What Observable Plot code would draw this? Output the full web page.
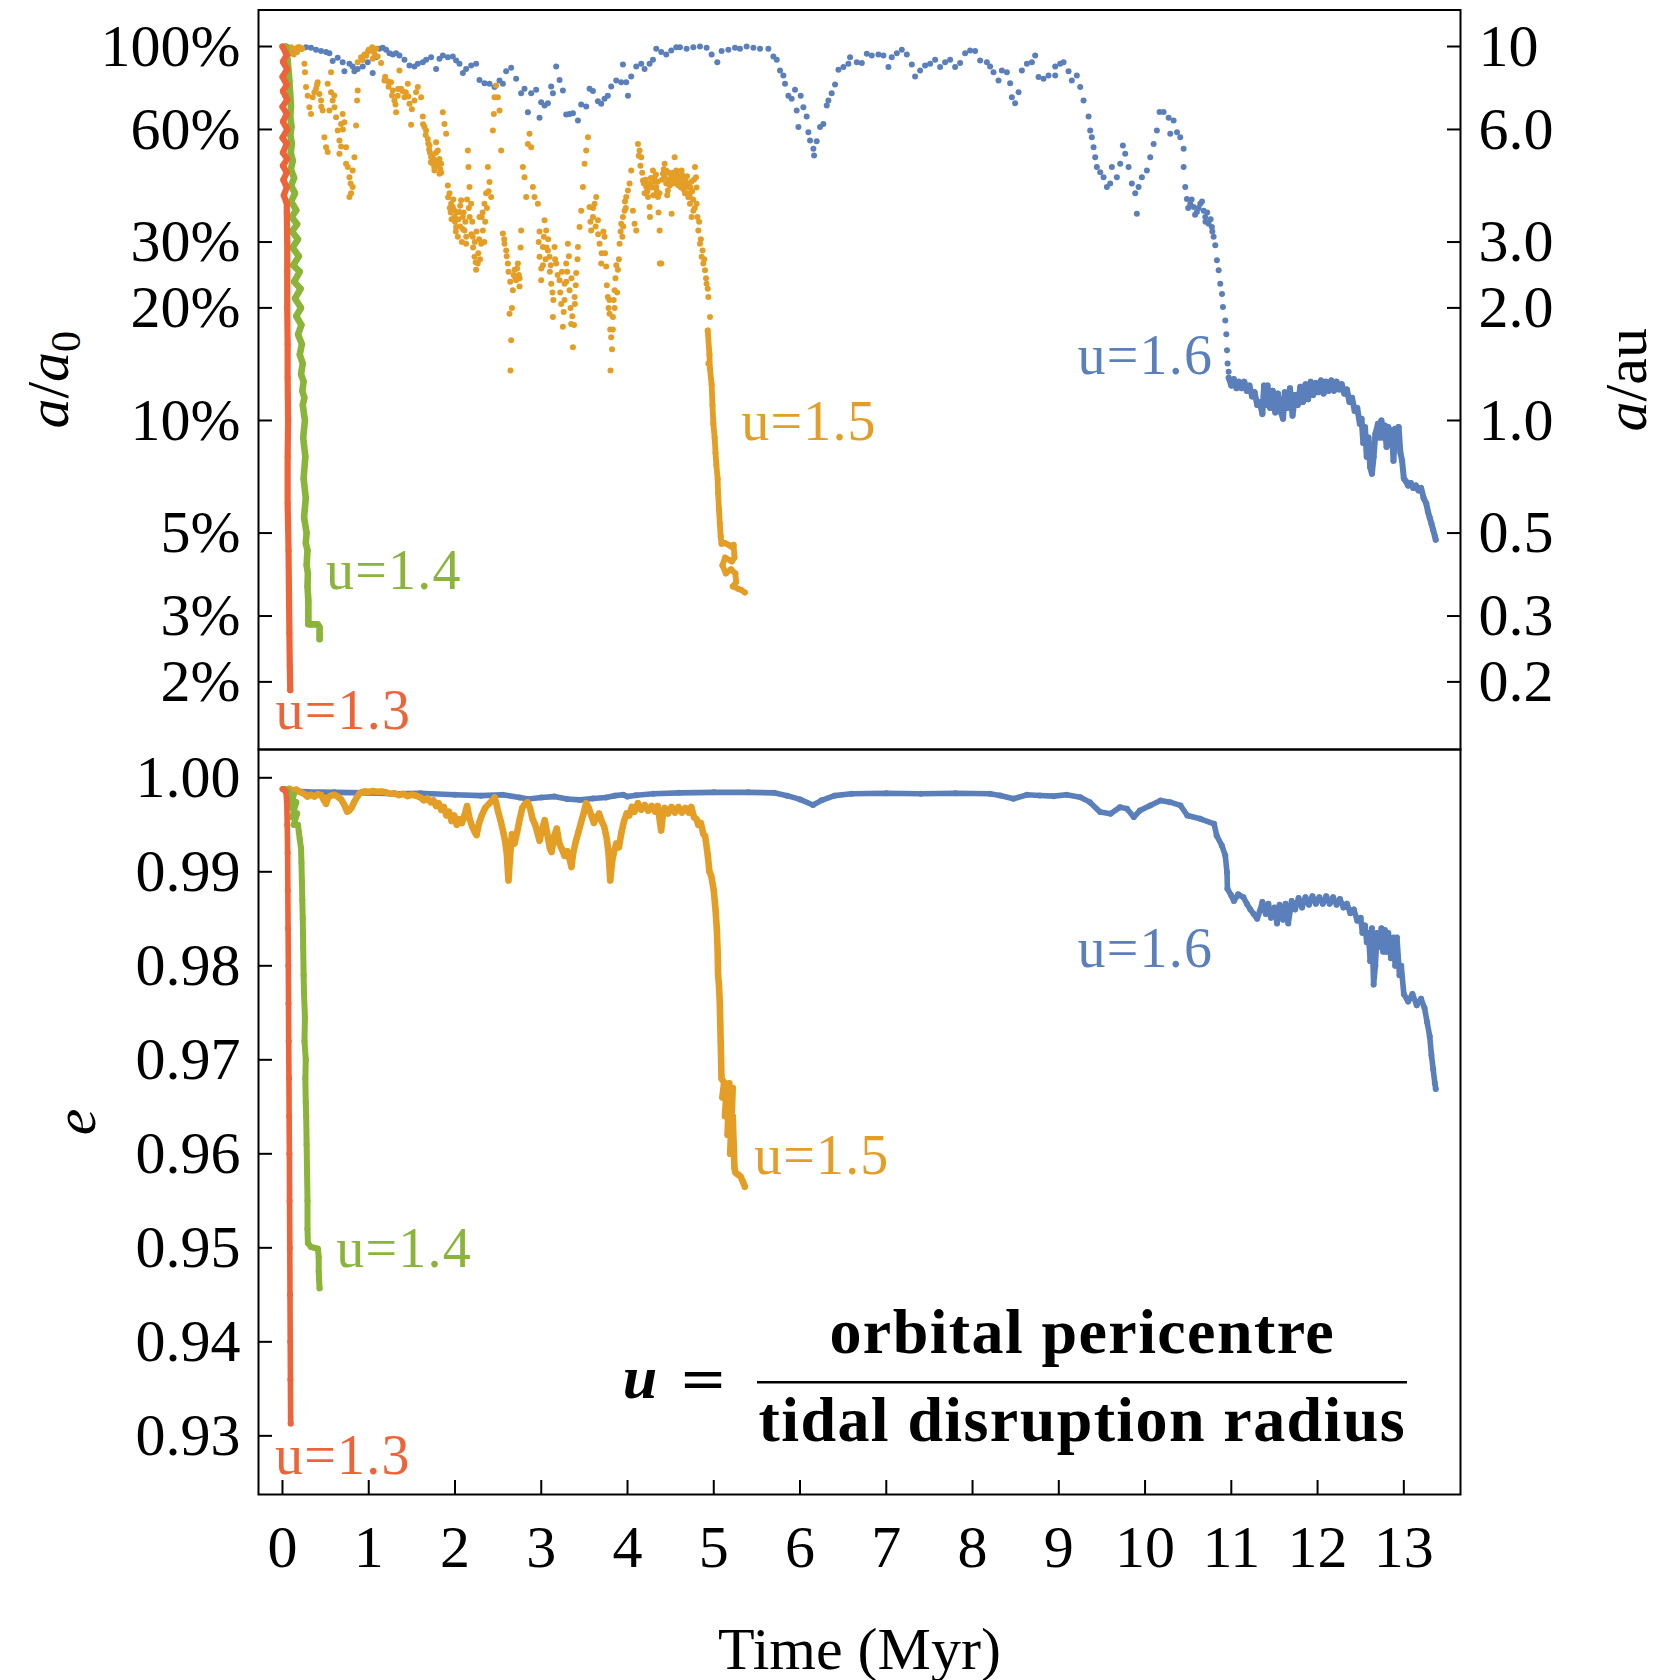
<!DOCTYPE html>
<html><head><meta charset="utf-8">
<script src="https://cdn.jsdelivr.net/npm/d3@7"></script>
<script src="https://cdn.jsdelivr.net/npm/@observablehq/plot@0.6"></script>
<style>
body{margin:0;background:#fff;}
#wrap{position:relative;width:1657px;height:1680px;background:#fff;}
#wrap svg{position:absolute;left:0;overflow:visible;background:transparent;}
</style></head><body><div id="wrap"></div>
<script>
// ---------- tick values & labels ----------
const aTicks = [10, 6, 3, 2, 1, 0.5, 0.3, 0.2];
const aTickLeft = ["100%", "60%", "30%", "20%", "10%", "5%", "3%", "2%"];
const aTickRight = ["10", "6.0", "3.0", "2.0", "1.0", "0.5", "0.3", "0.2"];
const eTicks = [1.00, 0.99, 0.98, 0.97, 0.96, 0.95, 0.94, 0.93];
const eTickLabels = ["1.00", "0.99", "0.98", "0.97", "0.96", "0.95", "0.94", "0.93"];
const timeTicks = [0,1,2,3,4,5,6,7,8,9,10,11,12,13];
const timeTickLabels = ["0","1","2","3","4","5","6","7","8","9","10","11","12","13"];
const seriesNames = ["u=1.3", "u=1.4", "u=1.5", "u=1.6"];
const seriesColors = ["#ee6338", "#8bb43a", "#e49e26", "#5a7fba"];

// ---------- top panel: semi-major axis a (au), [time Myr, a] ----------
const blueTopSparse = [[0.08,9.60],[0.138,9.66],[0.215,9.86],[0.273,9.96],[0.331,9.92],[0.389,9.80],[0.447,9.72],[0.505,9.66],[0.544,9.60],[0.582,9.14],[0.640,9.33],[0.698,9.08],[0.718,8.59],[0.776,8.99],[0.814,8.84],[0.834,8.59],[0.872,8.71],[0.930,8.84],[0.988,9.08],[1.046,8.49],[1.085,9.36],[1.124,9.86],[1.162,9.92],[1.201,9.80],[1.240,9.60],[1.279,9.52],[1.317,9.60],[1.356,9.46],[1.414,9.21],[1.472,8.90],[1.530,8.84],[1.569,8.99],[1.627,9.08],[1.665,9.21],[1.723,9.36],[1.781,8.71],[1.820,9.27],[1.859,9.46],[1.917,9.36],[1.975,9.40],[2.013,9.17],[2.052,8.99],[2.091,8.49],[2.129,8.71],[2.187,8.90],[2.245,8.99],[2.284,8.14],[2.342,7.98],[2.400,7.95],[2.458,7.79],[2.516,8.11],[2.555,7.95],[2.593,8.59],[2.651,8.77],[2.709,8.20],[2.767,7.50],[2.806,7.71],[2.845,6.67],[2.883,7.50],[2.941,7.66],[2.980,6.45],[2.999,7.10],[3.038,6.95],[3.077,7.05],[3.115,7.82],[3.135,7.50],[3.173,8.84],[3.212,8.14],[3.251,7.63],[3.289,6.58],[3.328,6.60],[3.367,6.63],[3.425,6.34],[3.463,7.00],[3.521,6.91],[3.560,7.71],[3.599,7.60],[3.657,7.14],[3.695,7.03],[3.734,7.25],[3.772,7.39],[3.811,7.82],[3.869,8.11],[3.927,8.03],[3.947,8.95],[3.985,8.03],[4.005,7.39],[4.043,8.31],[4.101,8.84],[4.159,8.99],[4.198,8.71],[4.256,8.99],[4.295,9.21],[4.333,9.86],[4.391,9.66],[4.449,9.52],[4.507,9.76],[4.565,9.96],
[4.608,9.96],[4.685,9.86],[4.763,9.96],[4.840,10.0],[4.917,9.92],[4.975,9.52],[5.041,9.08],[5.091,9.72],[5.169,9.80],[5.246,9.92],[5.304,9.86],[5.381,10.0],[5.459,9.92],[5.536,9.86],[5.633,9.86],[5.691,9.40],[5.730,9.21],[5.768,8.62],[5.807,8.37],[5.826,7.95],[5.865,7.39],[5.903,7.25],[5.942,7.66],[5.961,6.74],[5.981,6.09],[6.008,7.39],[6.039,6.88],[6.077,6.50],[6.097,5.90],[6.116,5.61],[6.155,5.33],[6.163,5.11],[6.193,5.58],[6.232,6.09],[6.271,6.21],[6.310,6.95],[6.329,7.17],[6.367,7.50],[6.406,7.92],[6.445,8.66],[6.503,8.81],[6.561,8.99],[6.580,9.36],[6.658,9.08],[6.716,9.03],[6.774,9.56],[6.832,9.46],[6.909,9.52],[6.967,9.46],[7.025,8.81],[7.063,9.36],[7.122,9.60],[7.180,9.80],[7.238,9.52],[7.296,8.95],[7.334,8.31],[7.392,8.62],[7.450,8.90],[7.508,8.99],[7.566,9.21],[7.624,8.81],[7.682,9.08],[7.740,9.21],[7.798,8.81],[7.856,9.03],[7.914,9.60],[7.972,9.76],[8.030,9.72],[8.088,9.17],[8.166,9.08],[8.204,8.84],[8.243,8.54],[8.301,8.11],[8.340,8.62],[8.398,8.54],[8.436,7.98],[8.456,7.32],[8.494,7.05],[8.533,7.55],[8.572,8.62],[8.630,8.99],[8.688,9.08],[8.726,9.46],[8.765,8.29],[8.823,8.20],[8.881,8.37],[8.958,8.84],[8.958,8.37],
[9.016,8.99],[9.055,9.08],[9.113,8.59],[9.151,8.11],[9.209,8.37],[9.248,7.79],[9.287,7.17],[9.345,6.50],[9.364,5.96],[9.383,5.72],[9.403,5.38],[9.422,5.06],[9.441,4.76],[9.480,4.61],[9.519,4.47],[9.557,4.21],[9.596,4.30],[9.615,4.76],[9.673,4.47],[9.712,4.86],[9.743,5.44],[9.770,5.17],[9.809,4.76],[9.847,4.30],[9.886,4.05],[9.905,3.57],[9.925,4.21],[9.963,4.47],[10.021,4.66],[10.060,5.06],[10.099,5.49],[10.137,5.96],[10.168,6.68],[10.215,6.68],[10.273,6.45],[10.292,5.84],[10.331,6.34],[10.370,5.90],[10.408,5.72],[10.447,5.33],[10.447,4.76],[10.466,4.21],[10.485,3.91],[10.50,3.70],[10.524,3.80],[10.54,3.90],[10.563,3.72],[10.58,3.55],[10.601,3.61],[10.62,3.70],[10.640,3.80],[10.66,3.85],[10.679,3.64],[10.698,3.50],[10.70,3.40],[10.72,3.60],[10.737,3.36],[10.76,3.45],[10.775,3.29],[10.78,3.20],[10.795,3.10],[10.814,2.94],[10.833,2.68],[10.853,2.52],[10.872,2.32],[10.892,2.18],[10.903,2.01],[10.930,1.85],[10.942,1.70],[10.950,1.54],[10.957,1.42],[10.969,1.35]];

const blueTopDense = [[10.97,1.30],[11.00,1.24],[11.03,1.29],[11.06,1.22],[11.09,1.27],[11.12,1.22],[11.15,1.27],[11.18,1.20],[11.21,1.24],[11.24,1.16],[11.27,1.19],[11.30,1.10],[11.33,1.12],[11.36,1.04],[11.38,1.24],[11.40,1.10],[11.42,1.24],[11.45,1.08],[11.48,1.20],[11.51,1.05],[11.54,1.18],[11.57,1.06],[11.60,1.01],[11.62,1.19],[11.65,1.08],[11.68,1.22],[11.71,1.03],[11.74,1.17],[11.77,1.10],[11.80,1.23],[11.83,1.12],[11.86,1.25],[11.89,1.14],[11.92,1.27],[11.95,1.17],[11.98,1.26],[12.01,1.19],[12.04,1.28],[12.07,1.18],[12.10,1.27],[12.13,1.20],[12.16,1.28],[12.19,1.20],[12.22,1.27],[12.25,1.21],[12.28,1.25],[12.31,1.18],[12.34,1.21],[12.37,1.12],[12.40,1.15],[12.43,1.06],[12.46,1.08],[12.49,0.98],[12.51,1.01],[12.53,0.87],[12.55,0.96],[12.57,0.80],[12.59,0.90],[12.61,0.75],[12.63,0.72],[12.65,0.80],[12.67,0.92],[12.70,0.98],[12.72,0.90],[12.74,1.00],[12.76,0.90],[12.78,0.97],[12.80,0.85],[12.82,0.96],[12.84,0.88],[12.86,0.94],[12.88,0.78],[12.90,0.95],[12.92,0.85],[12.94,0.96],[12.96,0.82],[12.98,0.78],[13.00,0.70],[13.02,0.69],[13.05,0.67],[13.08,0.68],[13.11,0.66],[13.14,0.67],[13.17,0.65],[13.20,0.66],[13.23,0.62],[13.26,0.60],[13.28,0.57],[13.30,0.55],[13.32,0.53],[13.34,0.51],[13.36,0.49],[13.37,0.48]];

const orangeTopSparse = [[0.06,9.96],[0.08,9.66],[0.10,9.96],[0.13,9.52],[0.14,9.86],[0.17,9.66],[0.18,9.96],[0.20,9.96],[0.215,9.86],[0.23,9.86],
[0.254,8.99],[0.261,8.54],[0.273,7.79],[0.292,7.39],[0.312,6.88],[0.331,6.60],[0.350,7.32],[0.370,7.55],[0.389,7.71],[0.40,7.90],[0.408,8.03],[0.428,7.47],[0.447,7.17],[0.45,6.90],[0.466,6.74],[0.486,5.72],[0.505,5.38],[0.524,5.22],[0.524,7.95],[0.544,6.74],[0.563,7.55],[0.563,8.54],[0.582,7.17],[0.60,7.40],[0.602,6.88],[0.621,6.47],[0.640,5.96],[0.660,5.61],[0.660,5.17],[0.679,6.21],[0.68,5.40],[0.698,6.60],[0.70,6.00],[0.718,6.27],[0.737,5.38],[0.737,4.86],[0.757,4.76],[0.776,4.47],[0.776,3.96],[0.79,4.30],[0.795,4.05],[0.814,4.21],[0.814,4.66],[0.834,5.06],[0.853,6.15],[0.865,7.17],[0.872,7.63],
[0.872,9.08],[0.911,9.36],[0.93,9.20],[0.950,9.52],[0.97,9.45],[0.988,9.66],[1.00,9.80],[1.027,9.76],[1.04,9.96],[1.046,9.27],[1.06,9.86],[1.066,9.56],[1.085,9.86],[1.104,9.40],[1.143,9.03],[1.182,8.11],[1.19,8.30],[1.221,8.08],[1.23,7.80],[1.259,8.03],[1.27,7.40],[1.279,7.63],[1.298,7.17],[1.31,7.00],[1.317,6.67],[1.336,7.39],[1.34,7.70],[1.356,8.62],[1.375,7.71],[1.39,7.60],[1.414,7.32],[1.43,7.55],[1.453,7.95],[1.46,7.35],[1.472,7.03],[1.491,6.18],[1.50,6.80],[1.530,7.17],[1.549,7.55],[1.569,7.79],[1.607,7.32],[1.627,6.50],[1.63,6.20],[1.646,6.09],[1.665,5.96],[1.66,5.80],[1.685,5.66],[1.69,5.50],[1.70,5.30],[1.704,5.44],[1.71,5.20],[1.72,4.90],[1.723,5.06],[1.74,5.10],[1.743,4.86],[1.75,5.00],[1.76,4.75],[1.762,4.66],[1.78,5.20],[1.781,5.55],[1.79,4.95],[1.80,4.80],[1.801,5.27],[1.82,5.00],[1.820,4.57],[1.83,4.70],[1.839,4.86],[1.84,4.60],[1.859,6.67],[1.878,6.21],[1.897,5.84],[1.917,4.25],[1.92,3.95],[1.936,4.05],[1.94,3.70],[1.95,3.60],[1.955,3.80],[1.96,3.45],[1.975,3.72],[1.98,3.90],[1.99,3.65],[1.994,3.50],[2.00,3.40],[2.01,3.20],[2.013,3.29],[2.02,3.60],[2.033,3.10],[2.04,3.45],[2.052,3.61],[2.06,3.30],[2.06,3.75],[2.071,3.88],[2.08,3.00],[2.09,3.25],[2.091,3.50],[2.10,3.60],[2.110,3.22],[2.12,3.40],[2.129,2.97],[2.13,3.10],[2.14,3.90],[2.149,5.27],[2.156,4.76],[2.16,3.70],[2.168,4.21],[2.17,3.50],[2.187,3.80],[2.19,3.15],[2.20,3.40],[2.206,3.10],[2.21,2.90],[2.226,2.74],[2.23,3.00],[2.24,2.65],[2.245,2.53],[2.25,3.20],[2.264,2.63],[2.27,2.80],[2.28,3.05],[2.284,3.50],[2.29,2.70],[2.303,2.97],[2.31,3.50],[2.32,3.60],[2.323,3.22],[2.34,3.00],[2.342,3.80],[2.35,3.40],[2.361,4.05],[2.37,3.70],[2.381,4.76],[2.39,4.10],[2.400,4.34],[2.419,3.96],[2.439,5.96],[2.45,6.60],[2.458,7.32],[2.477,7.87],[2.497,7.32],[2.516,6.74],[2.535,5.27],
[2.555,3.16],[2.57,3.05],[2.574,2.97],[2.593,2.85],[2.60,2.75],[2.613,2.63],[2.62,2.50],[2.632,1.93],[2.64,2.35],[2.643,1.36],[2.651,1.64],[2.66,2.00],[2.671,2.23],[2.68,2.45],[2.690,2.53],[2.70,2.40],[2.709,2.37],[2.72,2.55],[2.729,2.63],[2.74,2.45],[2.748,2.28],[2.75,2.40],[2.76,2.90],[2.767,3.22],[2.787,4.76],[2.806,4.47],[2.825,3.96],[2.845,5.49],[2.864,5.84],[2.883,5.38],[2.903,4.21],[2.922,3.96],[2.961,3.80],[2.97,3.00],[2.98,3.20],[2.980,2.74],[2.999,2.37],[3.00,2.55],[3.02,2.60],[3.019,2.91],[3.03,3.10],[3.038,3.43],[3.05,2.70],[3.057,3.22],[3.06,2.90],[3.077,2.85],[3.08,3.05],[3.096,2.74],[3.10,2.50],[3.11,2.60],[3.115,2.32],[3.13,2.20],[3.135,1.89],[3.14,2.10],[3.154,2.91],[3.16,2.70],[3.173,2.63],[3.19,2.45],[3.212,2.37],[3.22,2.20],[3.231,2.05],[3.24,2.50],[3.251,1.78],[3.26,1.95],[3.27,2.10],[3.270,2.32],[3.289,2.63],[3.29,2.35],[3.30,2.50],[3.309,2.97],[3.32,2.75],[3.328,2.23],[3.34,2.00],[3.347,1.81],[3.35,2.40],[3.36,1.90],[3.367,1.57],[3.38,1.80],[3.386,2.14],[3.39,2.05],[3.40,2.30],[3.405,2.48],[3.42,2.70],[3.425,2.91],[3.444,3.29],[3.463,3.64],[3.483,4.21],[3.502,4.86],[3.521,5.27],[3.541,5.72],[3.560,3.72],[3.57,3.40],[3.579,3.22],[3.599,3.50],[3.60,3.70],[3.618,3.80],[3.63,3.30],[3.637,3.96],[3.657,3.43],[3.66,3.15],[3.676,2.97],[3.695,2.63],[3.70,2.80],[3.72,3.20],[3.734,3.10],[3.74,2.80],[3.753,2.58],[3.76,2.30],[3.772,2.14],[3.78,2.00],[3.79,2.10],[3.792,1.93],[3.80,1.75],[3.803,1.36],[3.811,1.67],[3.82,1.55],[3.83,1.75],[3.831,1.89],[3.84,2.10],[3.85,2.00],[3.850,2.23],[3.86,2.40],[3.87,2.60],[3.88,2.20],[3.889,2.53],[3.90,2.70],[3.908,2.97],[3.92,3.20],[3.927,3.36],[3.94,3.10],[3.947,3.50],[3.95,3.30],[3.966,3.64],[3.97,3.85],[3.98,3.70],[3.985,3.96],[4.005,4.12],[4.024,4.30],[4.043,4.66],[4.063,3.64],[4.082,3.36],[4.101,3.22],[4.121,5.49],[4.13,5.10],[4.140,5.27],[4.15,4.80],[4.159,5.06],[4.17,4.60],[4.179,4.38],[4.19,4.30],[4.198,4.05],[4.21,4.40],[4.217,4.21],[4.23,4.10],[4.237,3.96],[4.25,4.30],[4.256,3.72],[4.27,4.45],[4.275,4.21],[4.29,4.20],[4.295,4.66],[4.30,4.00],[4.31,4.35],[4.314,4.47],[4.33,4.55],[4.333,4.21],[4.34,4.10],[4.35,4.35],[4.353,3.96],[4.36,3.60],[4.37,4.05],[4.372,3.22],[4.391,2.63],[4.40,4.40],[4.411,4.57],[4.42,4.70],[4.43,4.50],[4.430,4.86],[4.45,4.65],[4.449,4.30],[4.46,4.00],[4.47,4.40],[4.468,4.12],[4.48,4.60],[4.49,4.25],[4.507,4.38],[4.51,4.50],[4.52,4.30],[4.53,4.60],[4.546,5.06],[4.55,4.40],[4.56,4.30],[4.565,4.66],[4.57,4.55],[4.58,4.50],[4.59,4.25],
[4.608,4.47],[4.61,4.35],[4.62,4.20],[4.627,4.66],[4.63,4.55],[4.64,4.50],[4.647,4.30],[4.65,4.15],[4.666,4.05],[4.67,4.40],[4.68,4.30],[4.685,4.21],[4.69,4.50],[4.70,4.05],[4.705,3.95],[4.71,4.30],[4.72,4.00],[4.724,3.80],[4.73,4.20],[4.74,4.35],[4.743,3.50],[4.75,4.10],[4.76,3.90],[4.763,3.64],[4.77,4.40],[4.78,3.70],[4.782,4.76],[4.794,4.47],[4.80,4.20],[4.801,3.80],[4.81,3.50],[4.821,3.22],[4.83,3.40],[4.840,2.97],[4.85,3.05],[4.859,2.74],[4.87,2.85],[4.879,2.63],[4.89,2.70],[4.898,2.52],[4.91,2.40],[4.917,2.32],[4.93,2.25],[4.937,2.14],[4.937,1.42],[4.956,1.89],[4.375,2.63],[4.26,3.50],[4.511,3.57]];

const orangeTopTail = [[4.93,1.74],[4.95,1.50],[4.955,1.38],[4.975,1.25],[4.985,1.10],[4.995,0.98],[5.01,0.90],[5.02,0.82],[5.03,0.76],[5.045,0.70],[5.05,0.64],[5.06,0.58],[5.07,0.53],[5.08,0.49],[5.09,0.468],[5.13,0.47],[5.17,0.465],[5.20,0.46],[5.23,0.465],[5.24,0.43],[5.21,0.42],[5.13,0.43],[5.10,0.41],[5.14,0.39],[5.20,0.40],[5.25,0.39],[5.26,0.37],[5.22,0.36],[5.28,0.355],[5.32,0.352],[5.36,0.347]];

const greenTop = [[0.04,10.0],[0.06,9.2],[0.08,8.1],[0.099,6.95],[0.09,6.5],[0.105,6.1],[0.09,5.8],[0.11,5.5],[0.095,5.2],[0.12,4.95],[0.097,4.7],[0.135,4.45],[0.10,4.25],[0.145,4.05],[0.10,3.85],[0.16,3.65],[0.105,3.5],[0.17,3.35],[0.11,3.2],[0.18,3.05],[0.115,2.9],[0.19,2.75],[0.125,2.6],[0.20,2.5],[0.135,2.35],[0.21,2.25],[0.145,2.12],[0.215,2.0],[0.16,1.9],[0.22,1.8],[0.18,1.7],[0.225,1.6],[0.20,1.5],[0.235,1.42],[0.215,1.33],[0.245,1.27],[0.23,1.2],[0.254,1.15],[0.235,1.10],[0.26,1.00],[0.24,0.90],[0.265,0.80],[0.245,0.70],[0.27,0.62],[0.25,0.55],[0.28,0.50],[0.27,0.47],[0.29,0.45],[0.28,0.41],[0.295,0.39],[0.29,0.36],[0.30,0.33],[0.30,0.30],[0.30,0.285],[0.33,0.285],[0.37,0.285],[0.41,0.285],[0.43,0.28],[0.43,0.265],[0.43,0.26]];

const redTop = [[0.00,10.0],[0.05,9.5],[0.005,9.1],[0.055,8.7],[0.00,8.3],[0.05,7.9],[0.005,7.6],[0.055,7.2],[0.00,6.9],[0.05,6.6],[0.005,6.3],[0.055,6.0],[0.00,5.7],[0.05,5.5],[0.005,5.2],[0.055,5.0],[0.005,4.8],[0.05,4.6],[0.01,4.4],[0.05,4.2],[0.015,4.0],[0.05,3.8],[0.05,3.6],[0.055,3.0],[0.055,2.5],[0.055,2.0],[0.06,1.6],[0.06,1.3],[0.065,1.0],[0.06,0.8],[0.06,0.6],[0.07,0.45],[0.075,0.35],[0.08,0.27],[0.085,0.22],[0.09,0.19]];

// ---------- bottom panel: eccentricity e, [time Myr, e] ----------
const blueBottom = [[0.05,0.9986],[0.3,0.9985],[0.6,0.99845],[1.0,0.9984],[1.3,0.9983],[1.6,0.99835],[2.0,0.9982],[2.3,0.9981],[2.55,0.9982],[2.75,0.9979],[2.85,0.99775],[3.0,0.9979],[3.15,0.9980],[3.3,0.99775],[3.45,0.99765],[3.6,0.9978],[3.75,0.9979],[3.85,0.9981],[3.95,0.9982],[4.0,0.9980],[4.1,0.99815],[4.3,0.9983],[4.6,0.9984],[5.0,0.99845],[5.4,0.99845],[5.7,0.9984],[5.85,0.9981],[6.0,0.9977],[6.15,0.9971],[6.25,0.9976],[6.4,0.9981],[6.6,0.9983],[7.0,0.99835],[7.4,0.9983],[7.8,0.99835],[8.2,0.9983],[8.32,0.99812],[8.475,0.99777],[8.63,0.99819],[8.78,0.99812],[8.94,0.99805],[9.09,0.99819],[9.25,0.99794],[9.36,0.99741],[9.48,0.99635],[9.6,0.99617],[9.71,0.99688],[9.79,0.99670],[9.87,0.99582],[9.94,0.99652],[10.06,0.99706],[10.18,0.99759],[10.29,0.99741],[10.41,0.99706],[10.49,0.99599],[10.64,0.99564],[10.8,0.99511],[10.83,0.99387],[10.89,0.9928],[10.93,0.99174],[10.95,0.98996],[10.955,0.98819],
[11.00,0.98748],[11.03,0.9869],[11.08,0.9876],[11.14,0.9873],[11.18,0.9866],[11.22,0.9860],[11.26,0.9855],[11.30,0.9850],[11.33,0.9858],[11.36,0.9868],[11.40,0.9855],[11.43,0.9866],[11.46,0.9851],[11.50,0.9862],[11.53,0.9845],[11.56,0.9865],[11.60,0.9849],[11.63,0.9866],[11.66,0.9845],[11.70,0.9869],[11.74,0.9860],[11.78,0.9872],[11.82,0.9862],[11.86,0.9873],[11.90,0.9865],[11.94,0.9874],[11.98,0.9866],[12.02,0.9873],[12.06,0.9866],[12.10,0.9874],[12.14,0.9866],[12.18,0.9873],[12.22,0.9865],[12.26,0.9871],[12.30,0.9862],[12.34,0.9866],[12.38,0.9856],[12.42,0.9860],[12.46,0.9848],[12.50,0.9851],[12.52,0.9835],[12.55,0.9843],[12.57,0.9825],[12.59,0.9835],[12.61,0.9805],[12.63,0.9840],[12.65,0.9780],[12.67,0.9800],[12.69,0.9835],[12.72,0.9820],[12.74,0.9840],[12.76,0.9815],[12.78,0.9838],[12.80,0.9815],[12.82,0.9835],[12.85,0.9808],[12.88,0.9830],[12.90,0.9800],[12.92,0.9830],[12.95,0.9790],[12.97,0.9800],[13.00,0.9770],[13.05,0.9762],[13.10,0.9770],[13.15,0.9758],[13.20,0.9765],[13.24,0.9755],[13.27,0.9740],[13.30,0.9725],[13.32,0.9705],[13.34,0.9690],[13.36,0.9675],[13.37,0.9669]];

const orangeBottom = [[0.08,0.99883],[0.12,0.99860],[0.16,0.99875],[0.20,0.99850],[0.25,0.99830],[0.29,0.99800],[0.33,0.99820],[0.37,0.99800],[0.41,0.99825],[0.45,0.99815],[0.48,0.99760],[0.505,0.99723],[0.53,0.99790],[0.56,0.99810],[0.60,0.99820],[0.64,0.99800],[0.68,0.99770],[0.72,0.99706],[0.75,0.99640],[0.77,0.99650],[0.80,0.99680],[0.83,0.99740],[0.86,0.99790],[0.90,0.99840],[0.95,0.99855],[1.00,0.99850],[1.05,0.99860],[1.10,0.99850],[1.15,0.99855],[1.20,0.99845],[1.25,0.99830],[1.30,0.99835],[1.35,0.99815],[1.40,0.99830],[1.45,0.99805],[1.50,0.99820],[1.55,0.99810],[1.60,0.99790],[1.64,0.99760],[1.68,0.99780],[1.72,0.99740],[1.75,0.99760],[1.78,0.99700],[1.81,0.99730],[1.84,0.99660],[1.87,0.99690],[1.90,0.99600],[1.93,0.99640],[1.96,0.99540],[1.99,0.99600],[2.02,0.99500],[2.05,0.99560],[2.08,0.99520],[2.11,0.99600],[2.14,0.99700],[2.17,0.99560],[2.20,0.99480],[2.23,0.99420],[2.25,0.99390],[2.28,0.99520],[2.31,0.99600],[2.35,0.99680],[2.39,0.99720],[2.43,0.99760],[2.46,0.99790],[2.48,0.99720],[2.50,0.99640],[2.53,0.99540],[2.56,0.99420],[2.58,0.99330],[2.60,0.99200],[2.62,0.98908],[2.64,0.99180],[2.66,0.99400],[2.69,0.99300],[2.72,0.99420],[2.75,0.99560],[2.78,0.99680],[2.81,0.99720],[2.84,0.99740],[2.87,0.99680],[2.90,0.99560],[2.93,0.99500],[2.96,0.99400],[2.98,0.99330],[3.01,0.99450],[3.04,0.99550],[3.07,0.99400],[3.10,0.99250],[3.12,0.99210],[3.15,0.99380],[3.18,0.99460],[3.21,0.99300],[3.24,0.99240],[3.27,0.99170],[3.30,0.99220],[3.33,0.99130],[3.35,0.99050],[3.37,0.99200],[3.40,0.99320],[3.43,0.99420],[3.46,0.99520],[3.49,0.99620],[3.52,0.99730],[3.55,0.99680],[3.58,0.99600],[3.61,0.99520],[3.64,0.99580],[3.67,0.99620],[3.70,0.99540],[3.73,0.99480],[3.76,0.99350],[3.78,0.99200],[3.80,0.98908],[3.82,0.99100],[3.84,0.99200],[3.87,0.99300],[3.90,0.99260],[3.93,0.99420],[3.96,0.99540],[3.99,0.99620],[4.02,0.99600],[4.05,0.99690],[4.08,0.99640],[4.12,0.99730],[4.16,0.99660],[4.20,0.99710],[4.24,0.99650],[4.28,0.99700],[4.32,0.99640],[4.35,0.99700],[4.39,0.99440],[4.41,0.99600],[4.43,0.99680],[4.47,0.99620],[4.51,0.99690],[4.55,0.99630],[4.59,0.99690],[4.63,0.99630],[4.67,0.99680],[4.71,0.99630],[4.74,0.99690],[4.77,0.99580],[4.80,0.99560],[4.82,0.99500],[4.85,0.99520],[4.88,0.99400],[4.90,0.99380],[4.93,0.99180],[4.95,0.99000],[4.97,0.98960],[5.00,0.98800],[5.02,0.98600],[5.035,0.98400],[5.045,0.98150],[5.05,0.97900],[5.06,0.97800],[5.07,0.97600],[5.075,0.97400],[5.08,0.97200],[5.085,0.97000],[5.09,0.96800],[5.12,0.96760],[5.10,0.96600],[5.15,0.96720],[5.13,0.96400],[5.18,0.96750],[5.16,0.96200],[5.22,0.96700],[5.19,0.96000],[5.22,0.96400],[5.24,0.95850],[5.25,0.95800],[5.28,0.95780],[5.31,0.95760],[5.34,0.95700],[5.36,0.95650]];

const greenBottom = [[0.03,0.9988],[0.07,0.9986],[0.09,0.9978],[0.13,0.9982],[0.10,0.9968],[0.16,0.9974],[0.11,0.9958],[0.17,0.9962],[0.13,0.9950],[0.18,0.9950],[0.19,0.9942],[0.20,0.9935],[0.215,0.9925],[0.22,0.9910],[0.225,0.9890],[0.23,0.9870],[0.235,0.9850],[0.24,0.9820],[0.245,0.9790],[0.25,0.9770],[0.26,0.9745],[0.255,0.9720],[0.27,0.9700],[0.265,0.9680],[0.27,0.9655],[0.275,0.9640],[0.28,0.9610],[0.285,0.9580],[0.29,0.9550],[0.29,0.9520],[0.295,0.9505],[0.33,0.9501],[0.37,0.9500],[0.41,0.9499],[0.42,0.9490],[0.42,0.9475],[0.425,0.9465],[0.43,0.9457]];

const redBottom = [[0.00,0.9988],[0.02,0.9987],[0.04,0.9985],[0.05,0.9975],[0.055,0.9950],[0.06,0.9920],[0.062,0.9880],[0.065,0.9840],[0.068,0.9800],[0.07,0.9760],[0.072,0.9720],[0.075,0.9680],[0.077,0.9640],[0.08,0.9600],[0.082,0.9550],[0.085,0.9500],[0.087,0.9450],[0.09,0.9400],[0.092,0.9360],[0.095,0.9313]];

// ---------- annotations (data coordinates) ----------
const labelsTop = [
  {t: -0.08, v: 0.150, s: 0}, {t: 0.505, v: 0.355, s: 1},
  {t: 5.318, v: 0.889, s: 2}, {t: 9.217, v: 1.333, s: 3}
];
const labelsBottom = [
  {t: -0.086, v: 0.92596, s: 0}, {t: 0.624, v: 0.94794, s: 1},
  {t: 5.466, v: 0.95787, s: 2}, {t: 9.217, v: 0.97985, s: 3}
];
const eqNumerator = "orbital pericentre";
const eqDenominator = "tidal disruption radius";
const eqAnchor = {uT: 4.144, eqT: 4.875, baseV: 0.93407, barV: 0.93570, barT1: 5.507, barT2: 13.042, fracT: 9.272, numV: 0.93879, denV: 0.92950};

// ---------- rendering ----------
const X = d => d[0], Y = d => d[1];
const xDomain = [-0.278, 13.657];
const font = "'Liberation Serif', 'Times New Roman', serif";
const tickSize = -14;
const dotR = 3.0;

function seriesMarks(arr, color, lineWidth) {
  const m = [];
  if (lineWidth) m.push(Plot.line(arr, {x: X, y: Y, stroke: color, strokeWidth: lineWidth, strokeLinejoin: "round", strokeLinecap: "round"}));
  m.push(Plot.dot(arr, {x: X, y: Y, r: dotR, fill: color}));
  return m;
}
function labelMarks(labels, size) {
  return labels.map(l => Plot.text([l], {x: "t", y: "v", text: d => seriesNames[d.s], fill: seriesColors[l.s], textAnchor: "start", lineAnchor: "bottom", fontSize: size}));
}

const leftFmt = new Map(aTicks.map((d, i) => [d, aTickLeft[i]]));
const rightFmt = new Map(aTicks.map((d, i) => [d, aTickRight[i]]));
const eFmt = new Map(eTicks.map((d, i) => [d, eTickLabels[i]]));
const tFmt = new Map(timeTicks.map((d, i) => [d, timeTickLabels[i]]));

const topPlot = Plot.plot({
  width: 1657, height: 750,
  marginTop: 9.5, marginBottom: 1, marginLeft: 258, marginRight: 197,
  style: {background: "transparent", overflow: "visible", fontFamily: font, color: "#000"},
  x: {domain: xDomain, axis: null},
  y: {type: "log", domain: [0.1319, 12.52]},
  marks: [
    ...seriesMarks(blueTopSparse, seriesColors[3], 0),
    ...seriesMarks(orangeTopSparse, seriesColors[2], 0),
    ...seriesMarks(orangeTopTail, seriesColors[2], 5.8),
    ...seriesMarks(greenTop, seriesColors[1], 6.6),
    ...seriesMarks(redTop, seriesColors[0], 6.2),
    ...seriesMarks(blueTopDense, seriesColors[3], 6),
    ...labelMarks(labelsTop, 56),
    Plot.axisY(aTicks, {anchor: "left", tickSize, tickPadding: 32, strokeWidth: 2, fontSize: 60, tickFormat: d => leftFmt.get(d), label: null}),
    Plot.axisY(aTicks, {anchor: "right", tickSize, tickPadding: 32, strokeWidth: 2, fontSize: 60, tickFormat: d => rightFmt.get(d), label: null}),
    Plot.text([0], {frameAnchor: "left", text: () => "a/a0", rotate: -90, dx: -210, fontSize: 60, textAnchor: "middle"}),
    Plot.text([0], {frameAnchor: "right", text: () => "a/au", rotate: -90, dx: 166, fontSize: 60, textAnchor: "middle"}),
    Plot.frame({stroke: "#000", strokeWidth: 2})
  ]
});

const bottomPlot = Plot.plot({
  width: 1657, height: 931,
  marginTop: 0, marginBottom: 186, marginLeft: 258, marginRight: 197,
  style: {background: "transparent", overflow: "visible", fontFamily: font, color: "#000"},
  x: {domain: xDomain},
  y: {domain: [0.92376, 1.00301]},
  marks: [
    ...seriesMarks(blueBottom, seriesColors[3], 5.6),
    ...seriesMarks(orangeBottom, seriesColors[2], 6.6),
    ...seriesMarks(greenBottom, seriesColors[1], 6),
    ...seriesMarks(redBottom, seriesColors[0], 5.6),
    ...labelMarks(labelsBottom, 56),
    Plot.text([eqAnchor], {x: "uT", y: "baseV", text: () => "u", fontSize: 62, fontWeight: "bold", fontStyle: "italic", textAnchor: "middle", lineAnchor: "bottom"}),
    Plot.text([eqAnchor], {x: "eqT", y: "baseV", text: () => "=", fontSize: 58, fontFamily: "'DejaVu Serif', serif", textAnchor: "middle", lineAnchor: "bottom"}),
    Plot.ruleY([eqAnchor], {y: "barV", x1: "barT1", x2: "barT2", stroke: "#000", strokeWidth: 2.6}),
    Plot.text([eqAnchor], {x: "fracT", y: "numV", text: () => eqNumerator, fontSize: 64, fontWeight: "bold", textAnchor: "middle", lineAnchor: "bottom"}),
    Plot.text([eqAnchor], {x: "fracT", y: "denV", text: () => eqDenominator, fontSize: 64, fontWeight: "bold", textAnchor: "middle", lineAnchor: "bottom"}),
    Plot.axisX(timeTicks, {anchor: "bottom", tickSize, tickPadding: 43.4, strokeWidth: 2, fontSize: 60, tickFormat: d => tFmt.get(d), label: null}),
    Plot.axisY(eTicks, {anchor: "left", tickSize, tickPadding: 32, strokeWidth: 2, fontSize: 60, tickFormat: d => eFmt.get(d), label: null}),
    Plot.text([0], {frameAnchor: "left", text: () => "e", rotate: -90, dx: -183, fontSize: 60, fontStyle: "italic", textAnchor: "middle"}),
    Plot.text([0], {frameAnchor: "bottom", text: () => "Time (Myr)", lineAnchor: "bottom", dy: 174, fontSize: 60}),
    Plot.frame({stroke: "#000", strokeWidth: 2})
  ]
});

const wrap = document.getElementById("wrap");
topPlot.style.top = "0px";
bottomPlot.style.top = "749px";
wrap.appendChild(topPlot);
wrap.appendChild(bottomPlot);

// styling of text runs (italic math symbols, subscripts, spacing)
d3.select(bottomPlot).selectAll("text").each(function() {
  const s = this.textContent;
  if (s === eqNumerator || s === eqDenominator) this.setAttribute("letter-spacing", "1.4");
});
d3.selectAll("#wrap svg text").each(function() {
  if (seriesNames.includes(this.textContent)) this.setAttribute("letter-spacing", "1.2");
});
d3.select(topPlot).selectAll("text").each(function() {
  const s = this.textContent, t = d3.select(this);
  if (s === "a/a0") {
    t.text(null);
    t.append("tspan").attr("font-style", "italic").text("a");
    t.append("tspan").text("/");
    t.append("tspan").attr("font-style", "italic").text("a");
    t.append("tspan").attr("font-size", 42).attr("dy", 12).text("0");
  } else if (s === "a/au") {
    t.text(null);
    t.append("tspan").attr("font-style", "italic").text("a");
    t.append("tspan").text("/au");
  }
});
</script></body></html>
